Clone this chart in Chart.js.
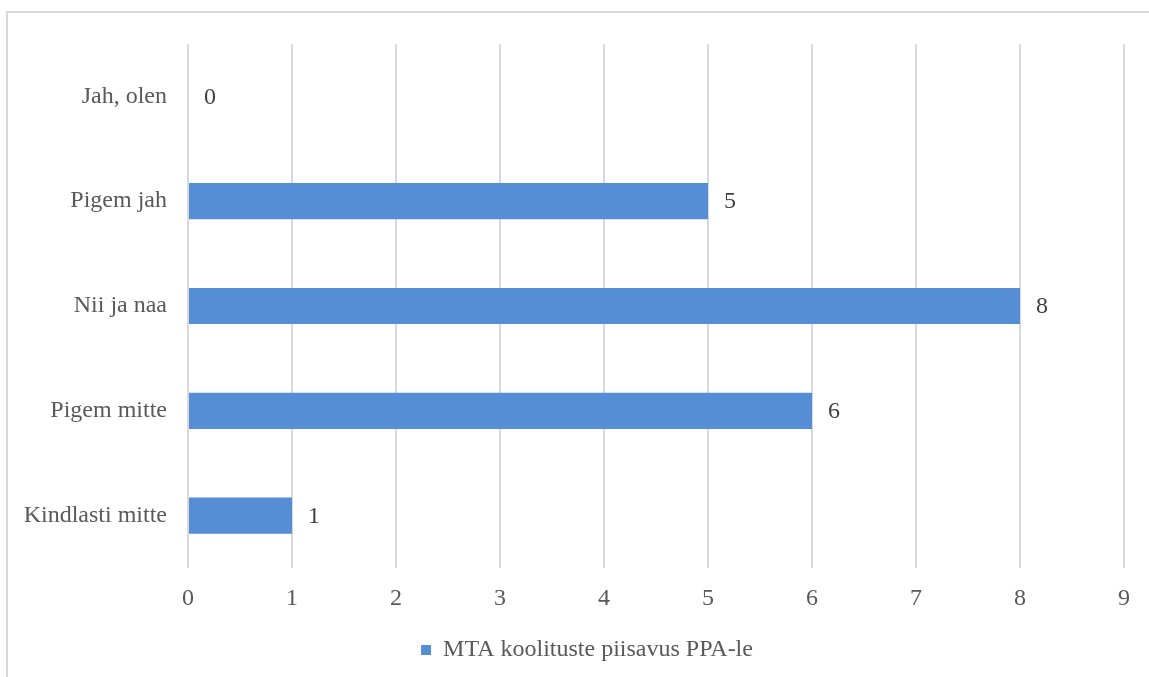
<!DOCTYPE html>
<html>
<head>
<meta charset="utf-8">
<script src="https://cdn.jsdelivr.net/npm/chart.js@4.4.1/dist/chart.umd.min.js"></script>
<style>
    html, body { margin: 0; padding: 0; background: #ffffff; overflow: hidden; }
    #frame {
        position: absolute; left: 6px; top: 11px;
        width: 1300px; height: 800px;
        border: 2px solid #d9d9d9;
        box-sizing: border-box;
    }
    #wrap { position: absolute; left: 0; top: 0; width: 1149px; height: 677px; }
</style>
</head>
<body>
<div id="frame"></div>
<div id="wrap"><canvas id="chart"></canvas></div>
<script>
const categories = ['Jah, olen', 'Pigem jah', 'Nii ja naa', 'Pigem mitte', 'Kindlasti mitte'];
const values = [0, 5, 8, 6, 1];
const seriesName = 'MTA koolituste piisavus PPA-le';
const xMin = 0;
const xMax = 9;

const barColor = '#558ed5';
const textColor = '#595959';
const fontFamily = '"Liberation Serif", "Times New Roman", serif';

// value labels to the right of each bar
const valueLabels = {
    id: 'valueLabels',
    afterDatasetsDraw(chart) {
        const ctx = chart.ctx;
        const meta = chart.getDatasetMeta(0);
        ctx.save();
        ctx.font = '24px ' + fontFamily;
        ctx.fillStyle = '#404040';
        ctx.textAlign = 'left';
        ctx.textBaseline = 'middle';
        meta.data.forEach((bar, i) => {
            ctx.fillText(String(values[i]), bar.x + 16, bar.y + 1);
        });
        ctx.restore();
    }
};

// legend sits a little right of the canvas centre
const legendShift = {
    id: 'legendShift',
    afterLayout(chart) {
        chart.legend.left += 25;
        chart.legend.right += 25;
    }
};

new Chart(document.getElementById('chart'), {
    type: 'bar',
    data: {
        labels: categories,
        datasets: [{
            label: seriesName,
            data: values,
            backgroundColor: barColor,
            borderWidth: 0,
            categoryPercentage: 1,
            barPercentage: 0.345
        }]
    },
    options: {
        indexAxis: 'y',
        responsive: true,
        maintainAspectRatio: false,
        animation: false,
        layout: { padding: { top: 44, left: 0, right: 25, bottom: 5 } },
        scales: {
            x: {
                min: xMin,
                max: xMax,
                ticks: {
                    stepSize: 1,
                    color: textColor,
                    font: { family: fontFamily, size: 24 },
                    padding: 16,
                    maxRotation: 0
                },
                grid: { color: '#d9d9d9', lineWidth: 2, drawTicks: false },
                border: { display: false },
                afterFit: (s) => { s.height = 60; }
            },
            y: {
                ticks: {
                    color: textColor,
                    font: { family: fontFamily, size: 24 },
                    padding: 21
                },
                grid: { display: false, drawTicks: false },
                border: { display: false },
                afterFit: (s) => { s.width = 188; }
            }
        },
        plugins: {
            legend: {
                position: 'bottom',
                labels: {
                    boxWidth: 10,
                    boxHeight: 10,
                    color: textColor,
                    font: { family: fontFamily, size: 24 },
                    padding: 10
                }
            },
            tooltip: { enabled: false }
        }
    },
    plugins: [valueLabels, legendShift]
});
</script>
</body>
</html>
